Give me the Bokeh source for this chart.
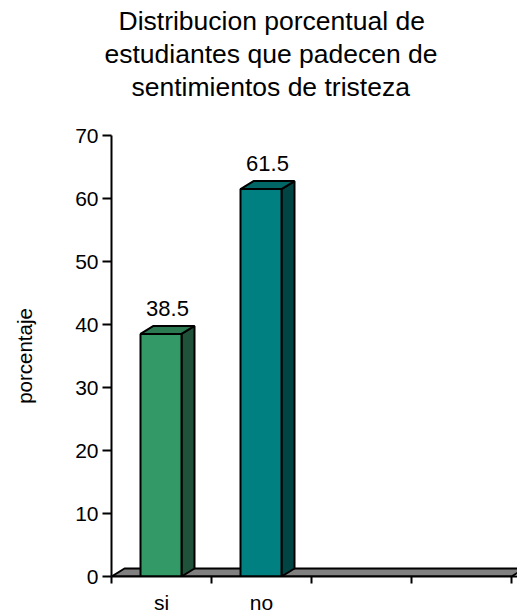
from bokeh.plotting import figure
from bokeh.models import Range1d, FixedTicker, Title
from bokeh.core.properties import value
from bokeh.embed import file_html
from bokeh.resources import INLINE

# ---- data -------------------------------------------------------------
title_lines = [
    "Distribucion porcentual de",
    "estudiantes que padecen de",
    "sentimientos de tristeza",
]
categories = ["si", "no"]
porcentaje = [38.5, 61.5]
value_labels = ["38.5", "61.5"]
y_ticks = [0, 10, 20, 30, 40, 50, 60, 70]
n_slots = 4          # category slots along the floor

# ---- style ------------------------------------------------------------
front_colors = ["#339966", "#008080"]
top_colors = ["#2b7a52", "#006666"]
side_colors = ["#1f5238", "#004444"]
FONT = "Liberation Sans"
TITLE_SIZE = "26.5px"

DX = 0.13     # depth offset (x units)
DY = 1.27     # depth offset (y units)
BAR_LEFT = 0.29
BAR_W = 0.41

p = figure(
    width=517, height=616,
    x_range=Range1d(0, n_slots + 0.06), y_range=Range1d(0, 70),
    output_backend="svg", toolbar_location=None,
    min_border_left=111, min_border_right=0,
    min_border_top=135, min_border_bottom=40,
)
p.grid.visible = False
p.outline_line_color = None
p.background_fill_color = "white"
p.border_fill_color = "white"

# floor
p.patch(x=[0, n_slots, n_slots + DX, DX], y=[0, 0, DY, DY],
        fill_color="#808080", line_color="black", line_width=2)

# 3-D bars: side, top and front faces
for i, v in enumerate(porcentaje):
    x0 = i + BAR_LEFT
    x1 = x0 + BAR_W
    p.patch(x=[x1, x1 + DX, x1 + DX, x1], y=[0, DY, v + DY, v],
            fill_color=side_colors[i], line_color="black", line_width=2)
    p.patch(x=[x0, x1, x1 + DX, x0 + DX], y=[v, v, v + DY, v + DY],
            fill_color=top_colors[i], line_color="black", line_width=2)
    p.quad(left=[x0], right=[x1], bottom=[0], top=[v],
           fill_color=front_colors[i], line_color="black", line_width=2)

# value labels above the bars
p.text(
    x=[i + BAR_LEFT + (BAR_W + DX) / 2 for i in range(len(porcentaje))],
    y=[v + DY for v in porcentaje],
    text=value_labels,
    text_align="center", text_baseline="bottom", y_offset=-10,
    text_font=value(FONT), text_font_size="22px", text_color="black",
)

# y axis
ya = p.yaxis[0]
ya.ticker = FixedTicker(ticks=y_ticks)
ya.minor_tick_line_color = None
ya.major_tick_in = 0
ya.major_tick_out = 9
ya.major_tick_line_width = 2
ya.axis_line_width = 2
ya.major_label_standoff = 4
ya.major_label_text_font = FONT
ya.major_label_text_font_size = "21px"
ya.major_label_text_color = "black"
ya.axis_label = "porcentaje"
ya.axis_label_text_font = FONT
ya.axis_label_text_font_size = "20.5px"
ya.axis_label_text_font_style = "normal"
ya.axis_label_text_color = "black"
ya.axis_label_standoff = 36

# x axis: labels centred in each slot, ticks on the slot boundaries
xa = p.xaxis[0]
xa.ticker = FixedTicker(ticks=[i + 0.5 for i in range(len(categories))],
                        minor_ticks=list(range(n_slots + 1)))
xa.major_label_overrides = {i + 0.5: c for i, c in enumerate(categories)}
xa.major_tick_in = 0
xa.major_tick_out = 0
xa.minor_tick_in = 0
xa.minor_tick_out = 7
xa.minor_tick_line_width = 2
xa.axis_line_width = 2
xa.major_label_standoff = 7
xa.major_label_text_font = FONT
xa.major_label_text_font_size = "21px"
xa.major_label_text_color = "black"

# blank line between the title block and the plot area
p.add_layout(Title(text=" ", standoff=0.5, text_font=FONT,
                   text_font_size=TITLE_SIZE), "above")

# chart title, one line per Title (the last added sits on top);
# offsets centre each line over x = 271
title_offsets = [7, -7, 20]
for line, off in reversed(list(zip(title_lines, title_offsets))):
    p.add_layout(Title(
        text=line, align="left", offset=off, standoff=0.5,
        text_font=FONT, text_font_size=TITLE_SIZE, text_font_style="normal",
        text_color="black",
    ), "above")

open("out.html", "w").write(file_html(p, INLINE))
